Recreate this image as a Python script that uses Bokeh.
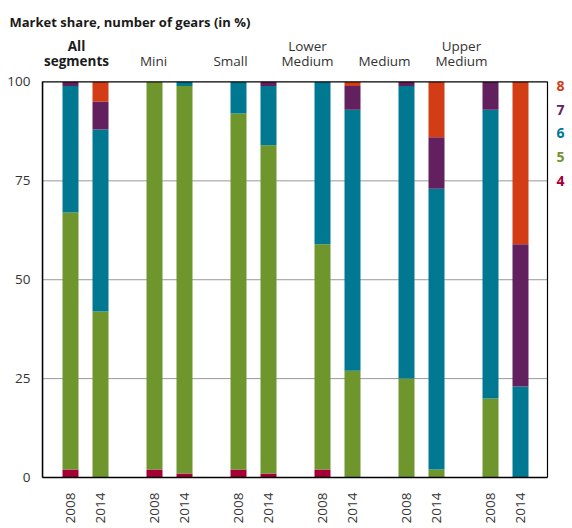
import math
from bokeh.plotting import figure
from bokeh.models import ColumnDataSource, Range1d, FixedTicker, CustomJSTickFormatter
from bokeh.core.properties import value
from bokeh.embed import file_html
from bokeh.resources import INLINE

# ---- data ----
title_text = "Market share, number of gears (in %)"
segments = ["All\nsegments", "Mini", "Small", "Lower\nMedium", "Medium", "Upper\nMedium"]
years = ["2008", "2014"]
gears = ["4", "5", "6", "7", "8"]
gear4 = [2, 0, 2, 1, 2, 1, 2, 0, 0, 0, 0, 0]
gear5 = [65, 42, 98, 98, 90, 83, 57, 27, 25, 2, 20, 0]
gear6 = [32, 46, 0, 1, 8, 15, 41, 66, 74, 71, 73, 23]
gear7 = [1, 7, 0, 0, 0, 1, 0, 6, 1, 13, 7, 36]
gear8 = [0, 5, 0, 0, 0, 0, 0, 1, 0, 14, 0, 41]
y_ticks = [0, 25, 50, 75, 100]

colors = ["#A40035", "#6E962D", "#007891", "#63205E", "#D33D16"]
FONT = "Open Sans"

# ---- layout helpers ----
PX = 84.0                      # pixels per group
off = 15 / PX
x_lo, x_hi = -0.512, 5.5       # plot box (groups)
x_end = x_hi + 23 / PX         # frame extends right for the key
y_top = 100 + 48 / 4.0         # frame extends above for headers

xs = [g + o for g in range(len(segments)) for o in (-off, off)]
year_text = [y for _ in segments for y in years]

src = ColumnDataSource(dict(x=xs, g4=gear4, g5=gear5, g6=gear6, g7=gear7, g8=gear8))

p = figure(width=570, height=526, x_range=Range1d(x_lo, x_end), y_range=Range1d(0, y_top),
           output_backend="svg", toolbar_location=None,
           min_border_left=42, min_border_right=0, min_border_top=34, min_border_bottom=44)
p.extra_x_ranges = {"hdr": Range1d(-34 / 77.0, (570 - 76) / 77.0)}

# title
p.title.text = title_text
p.title.align = "left"
p.title.offset = -33
p.title.standoff = 7
p.title.text_font = FONT
p.title.text_font_size = "13px"
p.title.text_font_style = "bold"
p.title.text_color = "#1a1a1a"

p.outline_line_color = None
p.grid.visible = False

# gridlines
gy = [t for t in y_ticks if 0 < t < 100]
p.segment(x0=[x_lo] * len(gy), y0=gy, x1=[x_hi] * len(gy), y1=gy,
          line_color="#333333", line_dash="1 1", line_width=1)

# bars
p.vbar_stack(["g4", "g5", "g6", "g7", "g8"], x="x", width=16 / PX, color=colors,
             source=src, line_width=0)

# plot box
p.quad(left=[x_lo], right=[x_hi], bottom=[y_ticks[0]], top=[y_ticks[-1]],
       fill_color=None, line_color="black", line_width=1.2)

# axes
p.yaxis.ticker = FixedTicker(ticks=y_ticks)
p.yaxis.bounds = (y_ticks[0], y_ticks[-1])
p.yaxis.major_tick_line_color = None
p.yaxis.minor_tick_line_color = None
p.yaxis.axis_line_color = "black"
p.yaxis.axis_line_width = 1.5
p.yaxis.major_label_standoff = 6
p.yaxis.major_label_text_font = FONT
p.yaxis.major_label_text_font_size = "13.5px"
p.yaxis.major_label_text_color = "#333333"

p.xaxis.ticker = FixedTicker(ticks=xs)
p.xaxis.formatter = CustomJSTickFormatter(args=dict(labels=year_text),
                                          code="return labels[index];")
p.xaxis.bounds = (x_lo, x_hi)
p.xaxis.major_label_orientation = math.pi / 2
p.xaxis.major_label_standoff = 9
p.xaxis.major_tick_line_color = None
p.xaxis.minor_tick_line_color = None
p.xaxis.axis_line_color = "black"
p.xaxis.axis_line_width = 1.5
p.xaxis.major_label_text_font = FONT
p.xaxis.major_label_text_font_size = "13.5px"
p.xaxis.major_label_text_color = "#333333"

# segment headers
hdr = ColumnDataSource(dict(x=list(range(len(segments))), y=[100 + 3.0] * len(segments),
                            text=segments,
                            style=["bold"] + ["normal"] * (len(segments) - 1),
                            color=["#1a1a1a"] + ["#333333"] * (len(segments) - 1)))
p.text(x="x", y="y", text="text", source=hdr, x_range_name="hdr",
       text_align="center", text_baseline="bottom", text_font=value(FONT),
       text_font_size=value("13.5px"), text_font_style="style", text_color="color",
       text_line_height=0.82)

# key digits
key = ColumnDataSource(dict(x=[x_hi] * len(gears), y=[75 + 6 * k for k in range(len(gears))],
                            text=gears, color=colors))
p.text(x="x", y="y", text="text", source=key, x_offset=13,
       text_align="center", text_baseline="middle", text_font=value(FONT),
       text_font_size=value("14px"), text_font_style="bold", text_color="color")

open("out.html", "w").write(file_html(p, INLINE))
